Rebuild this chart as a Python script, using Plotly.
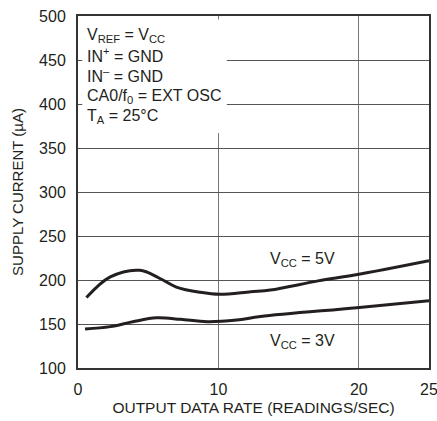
import plotly.graph_objects as go

# Data
rate_5v = [0.6, 2.3, 4.4, 5.8, 7.0, 8.7, 10.1, 12.3, 13.7, 17.1, 19.8, 25.0]
curr_5v = [180, 203.5, 211, 202, 192, 186, 183.7, 186.7, 188.6, 199, 206, 222]
rate_3v = [0.5, 2.3, 3.9, 5.6, 7.3, 9.2, 11.3, 13.0, 19.85, 25.0]
curr_3v = [144.3, 147, 152.6, 157, 155.3, 152.6, 154.5, 158.5, 168.5, 176.3]

x_ticks = [0, 10, 20, 25]
y_ticks = [100, 150, 200, 250, 300, 350, 400, 450, 500]

cond_lines = ["V<sub>REF</sub> = V<sub>CC</sub>", "IN<sup>+</sup> = GND", "IN<sup>–</sup> = GND",
              "CA0/f<sub>0</sub> = EXT OSC", "T<sub>A</sub> = 25°C"]
cond_y = [478, 456, 433, 409, 386]

FONT = "Liberation Sans, Arial, sans-serif"
INK = "#231f20"

fig = go.Figure()
for xs, ys in [(rate_5v, curr_5v), (rate_3v, curr_3v)]:
    fig.add_trace(go.Scatter(x=xs, y=ys, mode="lines",
                             line=dict(color=INK, width=3, shape="spline", smoothing=1.0),
                             showlegend=False, hoverinfo="skip"))

# white box behind the condition text
fig.add_shape(type="rect", xref="x", yref="y", x0=0.3, x1=10.6, y0=367, y1=496,
              fillcolor="white", line=dict(width=0), layer="between")

for txt, yy in zip(cond_lines, cond_y):
    fig.add_annotation(x=0.55, y=yy, xref="x", yref="y", text=txt, showarrow=False,
                       xanchor="left", yanchor="middle", align="left", borderpad=0,
                       font=dict(family=FONT, size=16, color=INK))
fig.add_annotation(x=16.0, y=223, xref="x", yref="y", text="V<sub>CC</sub> = 5V",
                   showarrow=False, font=dict(family=FONT, size=16, color=INK))
fig.add_annotation(x=16.0, y=130, xref="x", yref="y", text="V<sub>CC</sub> = 3V",
                   showarrow=False, font=dict(family=FONT, size=16, color=INK))

fig.update_layout(
    width=437, height=421,
    margin=dict(l=78, r=8, t=16, b=53, autoexpand=False),
    paper_bgcolor="white", plot_bgcolor="white",
    font=dict(family=FONT, size=16, color=INK),
)
fig.update_xaxes(range=[0, 25], tickvals=x_ticks, ticks="", showgrid=True,
                 automargin=False, ticklabelstandoff=6, ticklabeloverflow="allow",
                 gridcolor="#777777", gridwidth=1, zeroline=False,
                 showline=True, linecolor="#333333", linewidth=2, mirror=True,
                 title=dict(text="OUTPUT DATA RATE (READINGS/SEC)", standoff=5,
                            font=dict(family=FONT, size=15.5, color=INK)),
                 tickfont=dict(family=FONT, size=16, color=INK))
fig.update_yaxes(range=[100, 500], tickvals=y_ticks, ticks="", showgrid=True,
                 automargin=False, ticklabelstandoff=7,
                 gridcolor="#555555", gridwidth=1, zeroline=False,
                 showline=True, linecolor="#333333", linewidth=2, mirror=True,
                 title=dict(text="SUPPLY CURRENT (µA)", standoff=12,
                            font=dict(family=FONT, size=15, color=INK)),
                 tickfont=dict(family=FONT, size=16, color=INK))

fig.write_html("out.html", config={"displayModeBar": False},
               post_script="document.body.style.margin='0';document.body.style.overflow='hidden';")
